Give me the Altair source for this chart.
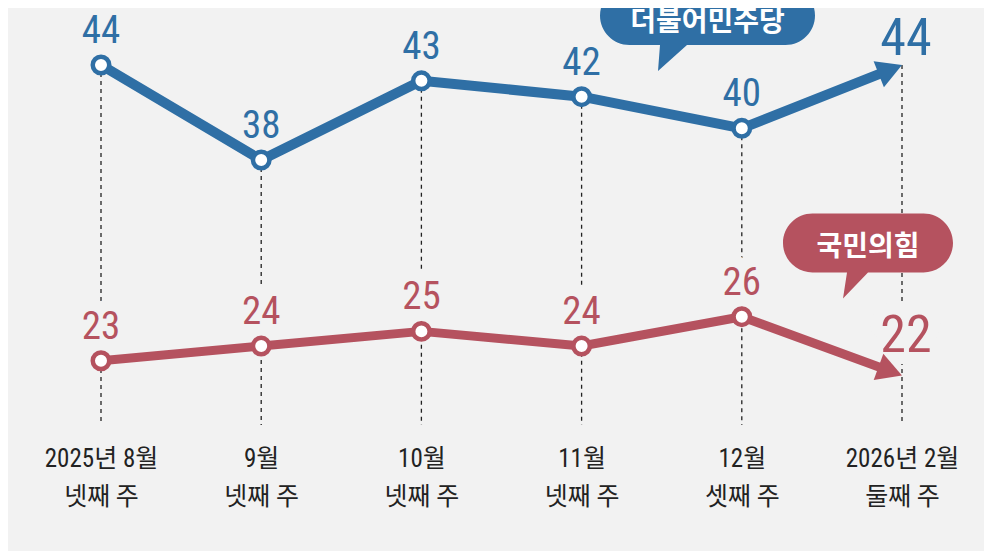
import math
import altair as alt
import pandas as pd

# ---- data ----
line1 = ["2025년 8월", "9월", "10월", "11월", "12월", "2026년 2월"]
line2 = ["넷째 주", "넷째 주", "넷째 주", "넷째 주", "셋째 주", "둘째 주"]
idx = [0, 1, 2, 3, 4, 5]
dem = [44, 38, 43, 42, 40, 44]   # 더불어민주당
ppp = [23, 24, 25, 24, 26, 22]   # 국민의힘
dem_name = "더불어민주당"
ppp_name = "국민의힘"

# ---- style ----
BG = "#f2f2f2"
BLUE = "#2f6fa5"
RED = "#b5525f"
INK = "#222222"
NUM_FONT = "Roboto Condensed, Liberation Sans Narrow, DejaVu Sans Condensed, Noto Sans CJK KR, sans-serif"
KR_FONT = "Noto Sans CJK KR, sans-serif"
W, H = 976, 422
X_DOMAIN = [0, 5]
X_RANGE = [93, 894]
DEM_DOMAIN = [38, 44]
DEM_RANGE = [152, 57]
PPP_DOMAIN = [22, 26]
PPP_RANGE = [367.4, 308.7]

df = pd.DataFrame({"idx": idx, "dem": dem, "ppp": ppp})
n = len(idx)

label_expr = "[" + ",".join(f"['{a}','{b}']" for a, b in zip(line1, line2)) + "][datum.value]"

x_enc = alt.X(
    "idx:Q",
    scale=alt.Scale(domain=X_DOMAIN, range=X_RANGE, nice=False, zero=False),
    axis=alt.Axis(
        values=idx, labelExpr=label_expr, domain=False, ticks=False, grid=False,
        title=None, labelFont=NUM_FONT, labelFontSize=25, labelColor=INK,
        labelLineHeight=38, labelPadding=16, labelAngle=0, labelFlush=False,
        labelAlign="center", labelOverlap=False,
    ),
)


def yenc(field, domain, rng):
    return alt.Y(f"{field}:Q", scale=alt.Scale(domain=domain, range=rng, nice=False, zero=False), axis=None)


px_per_x = (X_RANGE[1] - X_RANGE[0]) / (X_DOMAIN[1] - X_DOMAIN[0])


def arrow_geom(vals, domain, rng, shorten=18):
    ppu = abs(rng[1] - rng[0]) / (domain[1] - domain[0])
    dxp = px_per_x
    dyp = -(vals[-1] - vals[-2]) * ppu
    L = math.hypot(dxp, dyp)
    ang = math.degrees(math.atan2(dyp, dxp)) % 360
    f = shorten / L
    base_x = idx[-1] - f * (idx[-1] - idx[-2])
    base_v = vals[-1] - f * (vals[-1] - vals[-2])
    return ang, base_x, base_v


ARROW = "M0,0L-25,-14L-25,14Z"
DEM_BUBBLE = ("M-272.5,-79L-116.5,-79A29.5,29.5 0 0 1 -116.5,-20L-215,-20L-244,6L-242,-20"
              "L-272.5,-20A29.5,29.5 0 0 1 -272.5,-79Z")
PPP_BUBBLE = ("M-89.5,-162L21.5,-162A29.5,29.5 0 0 1 21.5,-103L-34,-103L-59,-77L-55,-103"
              "L-89.5,-103A29.5,29.5 0 0 1 -89.5,-162Z")


def series_layers(field, vals, domain, rng, color, width, big_dy, bubble_path, name, tdx, tdy, tweight, halo=False):
    y = yenc(field, domain, rng)
    base = alt.Chart(df)
    ang, bx, bv = arrow_geom(vals, domain, rng)
    line_df = pd.DataFrame({"idx": idx[:-1] + [bx], field: vals[:-1] + [bv]})
    layers = []
    line = alt.Chart(line_df).mark_line(color=color, strokeWidth=width, strokeJoin="round").encode(x=x_enc, y=y)
    pts = base.transform_filter(f"datum.idx < {n-1}").mark_point(
        shape="circle", filled=True, fill="white", stroke=color, strokeWidth=4.5, size=272, opacity=1
    ).encode(x=x_enc, y=y)
    arrow = base.transform_filter(f"datum.idx == {n-1}").mark_point(
        shape=ARROW, filled=True, fill=color, strokeWidth=0, size=4, opacity=1, angle=ang
    ).encode(x=x_enc, y=y)
    lab = base.transform_filter(f"datum.idx < {n-1}").mark_text(
        font=NUM_FONT, fontSize=39, color=color, align="center", baseline="alphabetic", dy=-22
    ).encode(x=x_enc, y=y, text=f"{field}:Q")
    big = base.transform_filter(f"datum.idx == {n-1}").mark_text(
        font=NUM_FONT, fontSize=52, color=color, align="center", baseline="alphabetic", dx=4, dy=big_dy
    ).encode(x=x_enc, y=y, text=f"{field}:Q")
    bubble = base.transform_filter(f"datum.idx == {n-1}").mark_point(
        shape=bubble_path, filled=True, fill=color, strokeWidth=0, size=4, opacity=1
    ).encode(x=x_enc, y=y)
    btext = base.transform_filter(f"datum.idx == {n-1}").mark_text(
        text=name, font=KR_FONT, fontSize=28, fontWeight=tweight, color="white",
        align="center", baseline="alphabetic", dx=tdx, dy=tdy
    ).encode(x=x_enc, y=y)
    if halo:
        hlab = base.transform_filter(f"datum.idx < {n-1}").mark_text(
            font=NUM_FONT, fontSize=39, color=BG, stroke=BG, strokeWidth=24, strokeJoin="round",
            align="center", baseline="alphabetic", dy=-22
        ).encode(x=x_enc, y=y, text=f"{field}:Q")
        hbig = base.transform_filter(f"datum.idx == {n-1}").mark_text(
            font=NUM_FONT, fontSize=52, color=BG, stroke=BG, strokeWidth=24, strokeJoin="round",
            align="center", baseline="alphabetic", dx=4, dy=big_dy
        ).encode(x=x_enc, y=y, text=f"{field}:Q")
        layers += [hlab, hbig]
    layers += [line, pts, arrow, lab, big, bubble, btext]
    return layers


rules = alt.Chart(df).mark_rule(color=INK, strokeWidth=1.3, strokeDash=[4, 4]).encode(
    x=x_enc, y=yenc("dem", DEM_DOMAIN, DEM_RANGE), y2=alt.value(417)
)

red_layers = series_layers("ppp", ppp, PPP_DOMAIN, PPP_RANGE, RED, 9, -23, PPP_BUBBLE, ppp_name,
                           -34, -119, "bold", halo=True)
blue_layers = series_layers("dem", dem, DEM_DOMAIN, DEM_RANGE, BLUE, 10, -10, DEM_BUBBLE, dem_name,
                            -194.5, -34, "bold")

chart = alt.layer(rules, *red_layers, *blue_layers).resolve_scale(y="independent").properties(
    width=W, height=H, autosize=alt.AutoSizeParams(type="none"),
    padding={"left": 0, "top": 0, "right": 0, "bottom": 121},
    background=BG,
).configure_view(stroke=None)

chart.save("out.html", embed_options={"renderer": "svg", "actions": False})
